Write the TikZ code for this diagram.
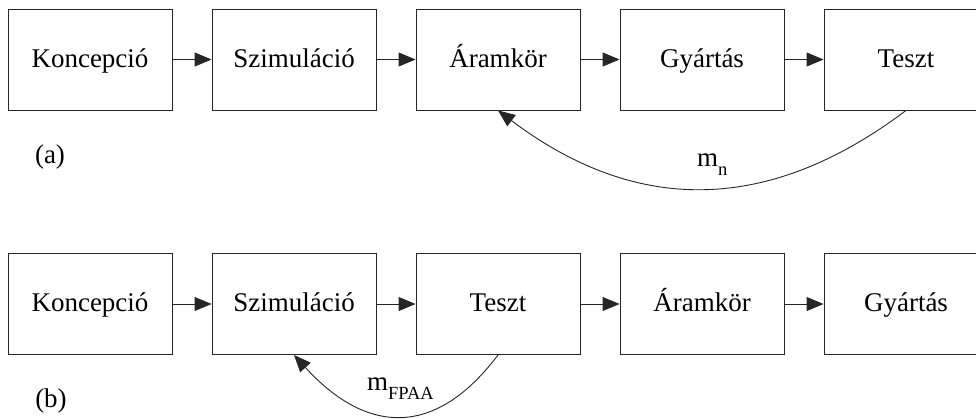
\documentclass[tikz,border=0pt]{standalone}
\usepackage{fontspec}
\setmainfont{Liberation Serif}
\usetikzlibrary{arrows.meta}
\tikzset{
  stagebox/.style={draw=black!85, line width=0.9pt, rectangle,
    minimum width=164pt, minimum height=101pt, inner sep=0pt,
    text height=20pt, text depth=5pt,
    font=\fontsize{27}{32}\selectfont},
  flow/.style={draw=black!85, line width=0.9pt,
    -{Triangle[length=17pt,width=14pt]}},
  tag/.style={font=\fontsize{27}{32}\selectfont, inner sep=0pt}
}
\newcommand{\subtxt}[1]{\raisebox{-9.5pt}{\fontsize{18.5}{18.5}\selectfont #1}}
\begin{document}
\begin{tikzpicture}[x=1pt,y=-1pt]
\useasboundingbox (0,0) rectangle (976,418);
\clip (0,0) rectangle (976,418);

% (a) classic design flow
\node[stagebox] (a1) at (90,59.5)  {Koncepció};
\node[stagebox] (a2) at (294,59.5) {Szimuláció};
\node[stagebox] (a3) at (498,59.5) {Áramkör};
\node[stagebox] (a4) at (702,59.5) {Gyártás};
\node[stagebox] (a5) at (906,59.5) {Teszt};
\draw[flow] (a1) -- (a2);
\draw[flow] (a2) -- (a3);
\draw[flow] (a3) -- (a4);
\draw[flow] (a4) -- (a5);
\draw[flow] (a5.south) .. controls +(-138,104) and +(138,104) .. (a3.south);
\node[tag, anchor=base west] (mn) at (697,166) {m\subtxt{n}};
\node[tag, anchor=base] (la) at (50,163) {(a)};

% (b) flow with FPAA prototyping
\node[stagebox] (b1) at (90,304)  {Koncepció};
\node[stagebox] (b2) at (294,304) {Szimuláció};
\node[stagebox] (b3) at (498,304) {Teszt};
\node[stagebox] (b4) at (702,304) {Áramkör};
\node[stagebox] (b5) at (906,304) {Gyártás};
\draw[flow] (b1) -- (b2);
\draw[flow] (b2) -- (b3);
\draw[flow] (b3) -- (b4);
\draw[flow] (b4) -- (b5);
\draw[flow] (b3.south) .. controls +(-64,85) and +(71,78) .. (b2.south);
\node[tag, anchor=base west] (mf) at (367,390) {m\subtxt{FPAA}};
\node[tag, anchor=base] (lb) at (51,407) {(b)};
\end{tikzpicture}
\end{document}
